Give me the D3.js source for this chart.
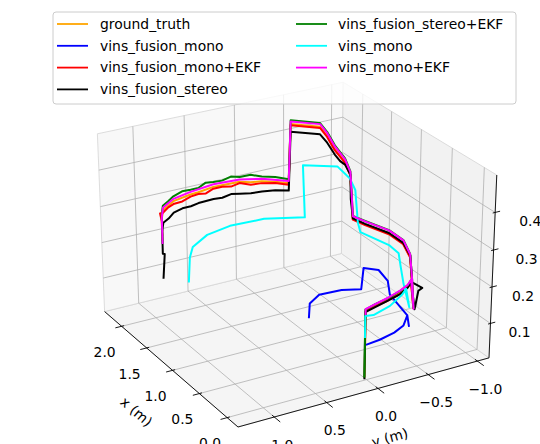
<!DOCTYPE html>
<html><head><meta charset="utf-8">
<script src="https://cdn.jsdelivr.net/npm/d3@7"></script>
<style>body{margin:0;background:#fff}text{font-family:"DejaVu Sans",sans-serif;fill:#000}</style>
</head><body><svg id="c" width="540" height="444"></svg>
<script>
// ---------- data ----------
const seriesNames = ["ground_truth","vins_fusion_mono","vins_fusion_mono+EKF","vins_fusion_stereo","vins_fusion_stereo+EKF","vins_mono","vins_mono+EKF"];
const seriesColors = ["orange","blue","red","black","green","cyan","magenta"];

const groundTruth = [[-0.05,0.05,0.02],[-0.05,0.05,0.202],[-0.010,-0.070,0.201],[0.036,-0.220,0.202],[0.100,-0.380,0.201],[0.170,-0.497,0.202],[0.240,-0.574,0.201],[0.226,-0.596,0.13],[0.235,-0.582,0.2],[0.212,-0.540,0.276],[0.480,-0.636,0.275],[0.716,-0.635,0.276],[0.997,-0.561,0.275],[1.140,-0.521,0.277],[1.156,-0.500,0.398],[1.286,-0.521,0.418],[1.430,-0.501,0.439],[1.644,-0.547,0.451],[1.787,-0.556,0.461],[1.977,-0.364,0.461],[2.007,-0.361,0.294],[2.056,-0.25,0.300],[2.105,-0.139,0.303],[2.151,-0.05,0.301],[2.193,0.039,0.304],[2.188,0.22,0.306],[2.178,0.312,0.308],[2.123,0.49,0.310],[2.092,0.583,0.313],[2.029,0.784,0.314],[1.899,0.952,0.313],[1.858,0.985,0.295],[1.858,0.985,0.235]];

const vinsFusionMono = [[-0.051,0.042,0.109],[-0.027,-0.108,0.109],[0.027,-0.284,0.109],[0.105,-0.424,0.109],[0.258,-0.556,0.109],[0.25,-0.57,0.079],[0.258,-0.556,0.109],[0.438,-0.486,0.15],[0.498,-0.499,0.18],[0.729,-0.545,0.18],[0.832,-0.454,0.18],[0.845,-0.441,0.12],[0.919,-0.285,0.12],[0.936,-0.068,0.12],[0.823,0.090,0.12],[0.82,0.10,0.08]];

const vinsFusionMonoEKF = [[-0.05,0.05,0.11],[-0.05,0.05,0.2],[-0.010,-0.070,0.2],[0.036,-0.22,0.2],[0.100,-0.38,0.199],[0.170,-0.497,0.2],[0.240,-0.574,0.2],[0.226,-0.596,0.13],[0.235,-0.582,0.2],[0.212,-0.540,0.274],[0.480,-0.636,0.273],[0.716,-0.635,0.274],[0.997,-0.561,0.273],[1.140,-0.521,0.275],[1.156,-0.500,0.396],[1.286,-0.521,0.416],[1.430,-0.501,0.436],[1.644,-0.547,0.448],[1.787,-0.556,0.458],[1.977,-0.364,0.458],[2.007,-0.361,0.29],[2.058,-0.252,0.296],[2.105,-0.139,0.298],[2.151,-0.052,0.294],[2.193,0.039,0.300],[2.19,0.128,0.296],[2.185,0.22,0.302],[2.178,0.312,0.303],[2.152,0.40,0.298],[2.123,0.49,0.305],[2.092,0.583,0.307],[2.063,0.68,0.303],[2.029,0.784,0.306],[1.966,0.866,0.309],[1.899,0.952,0.307],[1.91,0.975,0.305],[1.858,0.985,0.29],[1.858,0.985,0.25]];

const vinsFusionStereo = [[-0.048,0.05,0.015],[-0.048,0.05,0.198],[-0.008,-0.069,0.198],[0.038,-0.222,0.199],[0.102,-0.383,0.198],[0.171,-0.499,0.2],[0.245,-0.580,0.2],[0.23,-0.61,0.125],[0.16,-0.60,0.185],[0.10,-0.60,0.2],[0.24,-0.585,0.2],[0.215,-0.545,0.278],[0.482,-0.638,0.276],[0.718,-0.637,0.277],[0.999,-0.563,0.276],[1.142,-0.523,0.278],[1.16,-0.51,0.33],[1.158,-0.502,0.398],[1.288,-0.523,0.41],[1.35,-0.51,0.414],[1.432,-0.503,0.424],[1.646,-0.549,0.432],[1.789,-0.558,0.44],[1.979,-0.366,0.44],[2.009,-0.363,0.273],[2.058,-0.252,0.276],[2.107,-0.141,0.274],[2.151,-0.052,0.270],[2.195,0.037,0.270],[2.19,0.128,0.275],[2.185,0.22,0.271],[2.180,0.310,0.274],[2.152,0.40,0.277],[2.123,0.49,0.280],[2.094,0.581,0.280],[2.063,0.68,0.284],[2.031,0.782,0.282],[1.966,0.866,0.278],[1.901,0.950,0.279],[1.860,0.983,0.262],[1.860,0.983,0.20],[1.88,0.955,0.195],[1.860,0.983,0.13]];

const vinsFusionStereoEKF = [[-0.05,0.052,0.02],[-0.05,0.052,0.205],[-0.008,-0.069,0.206],[0.038,-0.222,0.206],[0.102,-0.383,0.207],[0.171,-0.499,0.206],[0.241,-0.576,0.207],[0.225,-0.597,0.13],[0.236,-0.583,0.205],[0.213,-0.541,0.283],[0.482,-0.638,0.284],[0.718,-0.637,0.285],[0.999,-0.563,0.284],[1.142,-0.523,0.285],[1.158,-0.502,0.406],[1.288,-0.523,0.427],[1.432,-0.503,0.449],[1.646,-0.549,0.461],[1.789,-0.558,0.471],[1.979,-0.366,0.471],[2.009,-0.363,0.305],[2.058,-0.252,0.313],[2.107,-0.141,0.316],[2.151,-0.052,0.322],[2.195,0.037,0.317],[2.19,0.128,0.324],[2.185,0.22,0.319],[2.180,0.310,0.321],[2.152,0.40,0.328],[2.123,0.49,0.322],[2.094,0.581,0.326],[2.063,0.68,0.331],[2.031,0.782,0.327],[1.966,0.866,0.326],[1.901,0.950,0.326],[1.88,0.967,0.318],[1.860,0.983,0.305],[1.860,0.983,0.227]];

const vinsMono = [[-0.048,0.050,0.128],[-0.045,0.049,0.187],[-0.064,-0.020,0.187],[0.017,-0.230,0.187],[0.151,-0.430,0.187],[0.234,-0.523,0.187],[0.22,-0.55,0.136],[0.331,-0.556,0.187],[0.346,-0.535,0.23],[0.424,-0.557,0.26],[0.602,-0.574,0.26],[0.976,-0.502,0.26],[1.096,-0.547,0.27],[1.105,-0.522,0.36],[1.274,-0.564,0.372],[1.475,-0.555,0.384],[1.653,-0.308,0.384],[1.640,-0.321,0.24],[1.797,0.007,0.24],[1.816,0.339,0.24],[1.745,0.603,0.24],[1.581,0.829,0.24],[1.60,0.85,0.21],[1.61,0.86,0.14]];

const vinsMonoEKF = [[-0.05,0.05,0.19],[-0.05,0.05,0.206],[-0.008,-0.069,0.206],[0.038,-0.222,0.207],[0.102,-0.383,0.208],[0.171,-0.499,0.207],[0.241,-0.576,0.208],[0.225,-0.597,0.128],[0.236,-0.583,0.206],[0.213,-0.541,0.282],[0.482,-0.638,0.283],[0.718,-0.637,0.284],[0.999,-0.563,0.283],[1.142,-0.523,0.284],[1.158,-0.502,0.404],[1.288,-0.523,0.424],[1.432,-0.503,0.446],[1.646,-0.549,0.458],[1.789,-0.558,0.468],[1.979,-0.366,0.468],[2.009,-0.363,0.30],[2.107,-0.141,0.31],[2.195,0.037,0.31],[2.180,0.310,0.315],[2.094,0.581,0.32],[2.031,0.782,0.32],[1.901,0.950,0.32],[1.860,0.983,0.30],[1.860,0.983,0.227]];

const seriesData = [groundTruth, vinsFusionMono, vinsFusionMonoEKF, vinsFusionStereo, vinsFusionStereoEKF, vinsMono, vinsMonoEKF];

const xTicks = [0, 0.5, 1, 1.5, 2];
const yTicks = [-1, -0.5, 0, 0.5, 1];
const zTicks = [0.1, 0.2, 0.3, 0.4];
const xTickLabels = ["0.0","0.5","1.0","1.5","2.0"];
const yTickLabels = ["\u22121.0","\u22120.5","0.0","0.5","1.0"];
const zTickLabels = ["0.1","0.2","0.3","0.4"];
const xLim = [-0.19, 2.35], yLim = [-1.12, 1.34], zLim = [0.004, 0.498];

// ---------- projection (matplotlib-like perspective) ----------
const elev = 26.5, azim = 150, dist = 10;
const asp = [4/3.5, 4/3.5, 3/3.5];
const el = elev*Math.PI/180, az = azim*Math.PI/180;
const nvec = [Math.cos(az)*Math.cos(el), Math.sin(az)*Math.cos(el), Math.sin(el)];
const Rc = asp.map(a => a/2);
const Eye = Rc.map((r,i) => r + nvec[i]*dist);
const cross = (a,b) => [a[1]*b[2]-a[2]*b[1], a[2]*b[0]-a[0]*b[2], a[0]*b[1]-a[1]*b[0]];
const dot = (a,b) => a[0]*b[0]+a[1]*b[1]+a[2]*b[2];
let uvec = cross([0,0,1], nvec); const ul = Math.hypot(...uvec); uvec = uvec.map(c => c/ul);
const vvec = cross(nvec, uvec);
const nX = d3.scaleLinear().domain(xLim).range([0, asp[0]]);
const nY = d3.scaleLinear().domain(yLim).range([0, asp[1]]);
const nZ = d3.scaleLinear().domain(zLim).range([0, asp[2]]);
function proj3(p){
  const Q = [nX(p[0]), nY(p[1]), nZ(p[2])];
  const d = Q.map((c,i) => c - Eye[i]);
  const w = -dot(nvec, d);
  return [dot(uvec,d)/w, dot(vvec,d)/w];
}
const cA = proj3([xLim[0], yLim[1], zLim[0]]);
const cB = proj3([xLim[0], yLim[0], zLim[0]]);
const cC = proj3([xLim[0], yLim[0], zLim[1]]);
const sx = d3.scaleLinear().domain([cA[0], cB[0]]).range([238, 489]);
const sy = d3.scaleLinear().domain([cA[1], cC[1]]).range([427, 175]);
const P = p => { const q = proj3(p); return [sx(q[0]), sy(q[1])]; };
const line3 = d3.line().x(d => P(d)[0]).y(d => P(d)[1]);

const svg = d3.select("#c");
const [x0,x1] = xLim, [y0,y1] = yLim, [z0,z1] = zLim;

// panes
const panes = [
  {pts:[[x0,y0,z0],[x1,y0,z0],[x1,y1,z0],[x0,y1,z0]], fill:"#f5f5f5"},
  {pts:[[x1,y0,z0],[x1,y1,z0],[x1,y1,z1],[x1,y0,z1]], fill:"#f8f8f8"},
  {pts:[[x0,y0,z0],[x1,y0,z0],[x1,y0,z1],[x0,y0,z1]], fill:"#f2f2f2"}
];
panes.forEach(p => svg.append("path").attr("d", line3(p.pts) + "Z").attr("fill", p.fill).attr("stroke", "#d4d4d4").attr("stroke-width", 0.8));

// grid
const grid = svg.append("g").attr("stroke", "#b0b0b0").attr("stroke-width", 0.8).attr("fill", "none");
xTicks.forEach(t => {
  grid.append("path").attr("d", line3([[t,y0,z0],[t,y1,z0]]));
  grid.append("path").attr("d", line3([[t,y0,z0],[t,y0,z1]]));
});
yTicks.forEach(t => {
  grid.append("path").attr("d", line3([[x0,t,z0],[x1,t,z0]]));
  grid.append("path").attr("d", line3([[x1,t,z0],[x1,t,z1]]));
});
zTicks.forEach(t => {
  grid.append("path").attr("d", line3([[x1,y0,t],[x1,y1,t]]));
  grid.append("path").attr("d", line3([[x0,y0,t],[x1,y0,t]]));
});

// axes lines
const ax = svg.append("g").attr("stroke", "#000").attr("stroke-width", 0.9).attr("fill", "none");
ax.append("path").attr("d", line3([[x1,y1,z0],[x0,y1,z0]]));
ax.append("path").attr("d", line3([[x0,y1,z0],[x0,y0,z0]]));
ax.append("path").attr("d", line3([[x0,y0,z0],[x0,y0,z1]]));
const xr = x1-x0, yr = y1-y0;
xTicks.forEach(t => ax.append("path").attr("d", line3([[t,y1-0.01*yr,z0],[t,y1+0.025*yr,z0]])));
yTicks.forEach(t => ax.append("path").attr("d", line3([[x0+0.015*xr,t,z0],[x0-0.04*xr,t,z0]])));
zTicks.forEach(t => ax.append("path").attr("d", line3([[x0,y0+0.01*yr,t],[x0,y0-0.02*yr,t]])));

// tick labels
const lab = svg.append("g").attr("font-size", "13.9px").attr("text-anchor", "middle");
xTicks.forEach((t,i) => { const p = P([t,y1,z0]); lab.append("text").attr("x", p[0]-17).attr("y", p[1]+26).attr("dy","0.35em").text(xTickLabels[i]); });
yTicks.forEach((t,i) => { const p = P([x0,t,z0]); lab.append("text").attr("x", p[0]+8).attr("y", p[1]+28).attr("dy","0.35em").text(yTickLabels[i]); });
zTicks.forEach((t,i) => { const p = P([x0,y0,t]); lab.append("text").attr("x", p[0]+29 + i*2).attr("y", p[1]+9).attr("dy","0.35em").text(zTickLabels[i]); });

// axis labels
{
  const a = P([x1,y1,z0]), b = P([x0,y1,z0]);
  const ang = Math.atan2(b[1]-a[1], b[0]-a[0])*180/Math.PI;
  const m = P([(x0+x1)/2, y1, z0]);
  lab.append("text").attr("transform", `translate(${m[0]-32},${m[1]+45}) rotate(${ang})`).attr("dy","0.35em").text("x (m)");
  const c = P([x0,y1,z0]), d = P([x0,y0,z0]);
  const ang2 = Math.atan2(d[1]-c[1], d[0]-c[0])*180/Math.PI;
  const m2 = P([x0, (y0+y1)/2, z0]);
  lab.append("text").attr("transform", `translate(${m2[0]+23},${m2[1]+46}) rotate(${ang2})`).attr("dy","0.35em").text("y (m)");
}

// trajectories
seriesData.forEach((s,i) => {
  svg.append("path").attr("d", line3(s)).attr("fill","none").attr("stroke", seriesColors[i]).attr("stroke-width", 2).attr("stroke-linejoin","round");
});

// legend
const lg = svg.append("g").attr("font-size", "13.9px");
lg.append("rect").attr("x", 53).attr("y", 12).attr("width", 463).attr("height", 92).attr("rx", 3).attr("fill", "white").attr("fill-opacity", 0.8).attr("stroke", "#cccccc");
seriesNames.forEach((n,i) => {
  const col = i < 4 ? 0 : 1, row = i < 4 ? i : i - 4;
  const lx = col ? 296 : 57, tx = col ? 338 : 100, yy = 24 + row*21.8;
  lg.append("line").attr("x1", lx).attr("x2", lx+31).attr("y1", yy).attr("y2", yy).attr("stroke", seriesColors[i]).attr("stroke-width", 1.8);
  lg.append("text").attr("x", tx).attr("y", yy).attr("dy", "0.35em").text(n);
});
</script></body></html>
